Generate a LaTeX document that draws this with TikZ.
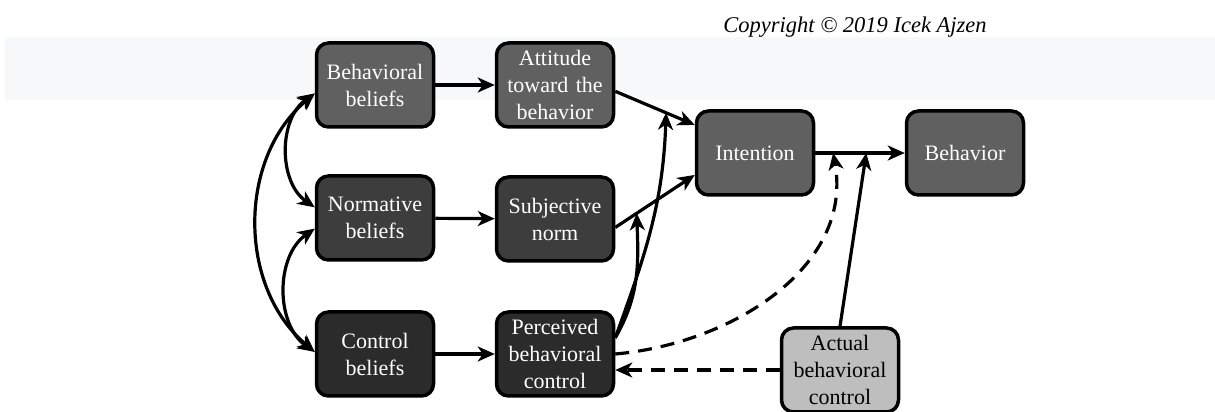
\documentclass[tikz,border=0pt]{standalone}
\usepackage{fontspec}
\setmainfont{Liberation Serif}
\usetikzlibrary{arrows.meta,calc}
\definecolor{bandgray}{HTML}{F7F8FA}
\definecolor{midgray}{HTML}{606060}
\definecolor{darkgray}{HTML}{3D3D3D}
\definecolor{darkestgray}{HTML}{2B2B2B}
\definecolor{lightgray}{HTML}{BEBEBE}
\begin{document}
\begin{tikzpicture}[x=1pt, y=1pt, >={Stealth[length=17pt,width=15pt,inset=5pt]},
    box/.style={draw, line width=3.5pt, rounded corners=12pt, minimum width=117pt,
        minimum height=84pt, text width=112pt, align=center, inner sep=0pt,
        text=white, font=\fontsize{22}{27}\selectfont},
    link/.style={->, line width=3.2pt},
    dashlink/.style={->, line width=3.2pt, dash pattern=on 14pt off 9pt}]
    \useasboundingbox (0,0) rectangle (1215,412);
    \fill[bandgray] (5,312) rectangle (1215,375);
    \node[font=\itshape\fontsize{22.5}{26}\selectfont] (copy) at (855,385) {Copyright \textcopyright{} 2019 Icek Ajzen};

    % beliefs and their direct results
    \node[box, fill=midgray] (bb) at (375,327) {Behavioral\\beliefs};
    \node[box, fill=midgray] (att) at (555,327) {Attitude\\toward the\\behavior};
    \node[box, fill=darkgray] (nb) at (375,194) {Normative\\beliefs};
    \node[box, fill=darkgray] (sn) at (555,193) {Subjective\\norm};
    \node[box, fill=darkestgray] (cb) at (375,58) {Control\\beliefs};
    \node[box, fill=darkestgray] (pbc) at (555,58) {Perceived\\behavioral\\control};
    \node[box, fill=midgray] (int) at (755,259) {Intention};
    \node[box, fill=midgray] (beh) at (965,259) {Behavior};
    \node[box, fill=lightgray, text=black] (abc) at (840,42) {Actual\\behavioral\\control};

    \coordinate (m1) at ($(att.-6)!0.64!(int.155)$);
    \coordinate (m2) at ($(sn.-8)!0.27!(int.200)$);
    \coordinate (m3) at ($(int.east)!0.2!(beh.west)$);
    \coordinate (m4) at ($(int.east)!0.57!(beh.west)$);

    \draw[link] (bb) -- (att);
    \draw[link] (nb) -- (sn);
    \draw[link] (cb) -- (pbc);
    \draw[link] (att.-6) -- (int.155);
    \draw[link] (sn.-8) -- (int.200);
    \draw[link] (int) -- (beh);
    \draw[link] (pbc.15) to[out=60,in=-88] (m2);
    \draw[link] (pbc.15) to[out=70,in=-92] (m1);
    \draw[dashlink] (pbc.east) to[out=5,in=-80] (m3);
    \draw[link] (abc.north) -- (m4);
    \draw[dashlink] (abc.west) -- (pbc.east |- abc.west);

    % correlations among beliefs
    \draw[link, <->] (bb.188) to[out=215,in=145] (nb.170);
    \draw[link, <->] (nb.190) to[out=215,in=145] (cb.178);
    \draw[link, <->] (bb.188) to[out=220,in=140] (cb.178);
\end{tikzpicture}
\end{document}
